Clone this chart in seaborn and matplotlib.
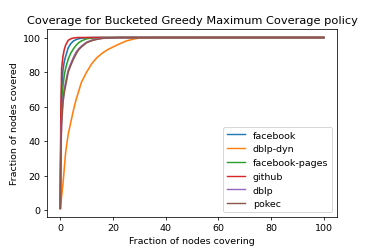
import matplotlib
matplotlib.use("Agg")
import matplotlib.pyplot as plt
import seaborn as sns
import pandas as pd

# fraction of nodes covering (%)
x_cover = [0, 0.2, 0.5, 1, 1.5, 2, 3, 4, 5, 6, 7, 8, 10, 12, 14, 16, 18, 20, 22, 25, 28, 30, 35, 40, 50, 60, 70, 80, 90, 100]

facebook = [1, 45, 70, 81, 86, 89, 94, 96.5, 98, 98.8, 99.3, 99.6, 99.9, 100, 100, 100, 100, 100, 100, 100, 100, 100, 100, 100, 100, 100, 100, 100, 100, 100]
dblp_dyn = [1, 4, 8, 15, 24, 33, 44, 51, 58, 64, 69, 74, 80, 85, 88.5, 91, 93, 94.5, 96, 98, 99.2, 99.7, 100, 100, 100, 100, 100, 100, 100, 100]
facebook_pages = [1, 38, 60, 72, 78, 82, 87.5, 91, 93.5, 95.5, 97, 98, 99.3, 99.7, 99.9, 100, 100, 100, 100, 100, 100, 100, 100, 100, 100, 100, 100, 100, 100, 100]
github = [1, 55, 82, 89, 93, 95.5, 98.4, 99.3, 99.7, 99.9, 100, 100, 100, 100, 100, 100, 100, 100, 100, 100, 100, 100, 100, 100, 100, 100, 100, 100, 100, 100]
dblp = [1, 34, 53, 64, 70, 74, 81, 85, 88.5, 91.5, 93.5, 95, 97.3, 98.5, 99.2, 99.6, 99.8, 99.9, 100, 100, 100, 100, 100, 100, 100, 100, 100, 100, 100, 100]
pokec = [1, 32, 50, 62, 68, 72, 80, 84, 87.5, 90.5, 93, 94.5, 97, 98.2, 99, 99.5, 99.7, 99.85, 99.95, 100, 100, 100, 100, 100, 100, 100, 100, 100, 100, 100]

series = [
    ("facebook", facebook),
    ("dblp-dyn", dblp_dyn),
    ("facebook-pages", facebook_pages),
    ("github", github),
    ("dblp", dblp),
    ("pokec", pokec),
]

fig, ax = plt.subplots(figsize=(5.5, 3.66), dpi=68)
fig.subplots_adjust(left=0.126, right=0.901, top=0.88, bottom=0.125)
colors = sns.color_palette("tab10")

for i, (name, vals) in enumerate(series):
    df = pd.DataFrame({"x": x_cover, "y": vals})
    sns.lineplot(data=df, x="x", y="y", label=name, color=colors[i], linewidth=1.7, ax=ax)

ax.set_title("Coverage for Bucketed Greedy Maximum Coverage policy")
ax.set_xlabel("Fraction of nodes covering")
ax.set_ylabel("Fraction of nodes covered")
leg = ax.legend(loc="lower right")
for line in leg.get_lines():
    line.set_linewidth(1.5)

fig.savefig("out.png", dpi=68)
